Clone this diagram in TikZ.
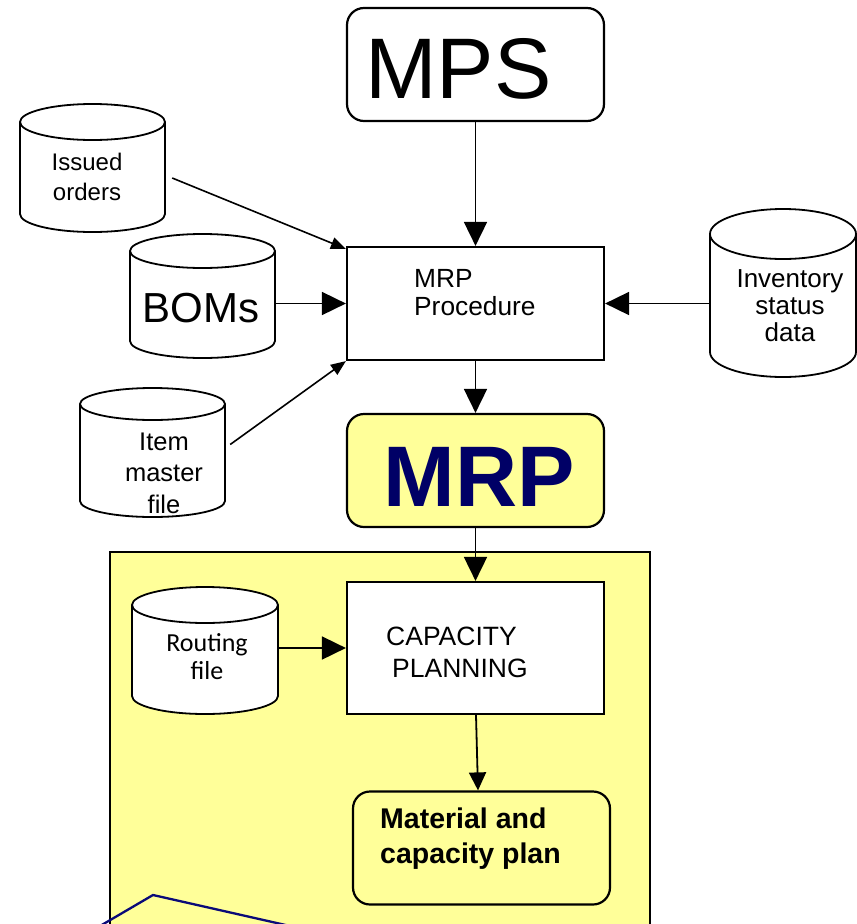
\documentclass[tikz,border=0pt]{standalone}
\usepackage{fontspec}
\setmainfont{Liberation Sans}
\newfontfamily\carlitofont{Carlito}
\usetikzlibrary{arrows.meta}

\definecolor{paleyellow}{RGB}{255,255,153}
\definecolor{navytext}{RGB}{0,0,102}
\definecolor{navyline}{RGB}{10,10,120}

% stacked lines whose baseline is the baseline of the last line
\newcommand\stack[2][c]{\begin{tabular}[b]{@{}#1@{}}#2\end{tabular}}

% database drum: name, left, top, right, bottom, ellipse half-height
\newcommand\drum[6]{%
  \pgfmathsetmacro\drx{(#4-#2)/2}%
  \path[drumline,fill=white] (#2,{#3+#6}) -- (#2,{#5-#6})
    arc[start angle=180,end angle=360,x radius=\drx pt,y radius=#6pt]
    -- (#4,{#3+#6})
    arc[start angle=0,end angle=180,x radius=\drx pt,y radius=#6pt] -- cycle;
  \draw[drumline] (#2,{#3+#6})
    arc[start angle=180,end angle=360,x radius=\drx pt,y radius=#6pt];
  \node[inner sep=0pt,minimum width={(#4-#2)*1pt},minimum height={(#5-#3)*1pt}]
    (#1) at ({(#2+#4)/2},{(#3+#5)/2}) {};
}

\begin{document}
\begin{tikzpicture}[x=1pt,y=-1pt,
  drumline/.style={draw=black,line width=1.8pt},
  procbox/.style={draw=black,line width=2.2pt,fill=white,inner sep=0pt,
    minimum width=257pt,minimum height=113pt},
  roundbox/.style={procbox,rounded corners=17pt},
  label/.style={inner sep=0pt,font=\fontsize{25}{26}\selectfont},
  flow/.style={line width=1.8pt,-{Triangle[length=24pt,width=23pt]}},
  thinflow/.style={line width=1.8pt,-{Triangle[length=18pt,width=17pt]}},
  slantflow/.style={line width=1.6pt,-{Triangle[length=15pt,width=12pt]}}]

\useasboundingbox (0,0) rectangle (857,924);
\fill[white] (0,0) rectangle (857,924);

% capacity planning area
\fill[paleyellow] (110,552) rectangle (650,926);
\draw[line width=2.2pt] (110,926) -- (110,552) -- (650,552) -- (650,926);

% boxes
\node[roundbox] (mps)  at (475.5,64.5) {};
\node[procbox]  (proc) at (475.5,303.5) {};
\node[roundbox,fill=paleyellow] (mrp) at (475.5,470.5) {};
\node[procbox,minimum height=132pt] (cap) at (475.5,648) {};
\node[roundbox,fill=paleyellow] (mat) at (481.5,848) {};

% data stores
\drum{issued}{20}{104}{165}{232}{18}
\drum{boms}{130}{234}{275}{358}{17}
\drum{item}{80}{388}{225}{517}{16}
\drum{inv}{710}{209}{856}{377}{25}
\drum{routing}{132}{587}{278}{714}{18}

% texts
\node[inner sep=0pt,anchor=base west,font=\fontsize{86}{90}\selectfont]
  (mpsT) at (365,98) {MPS};
\node[label,anchor=base west,font=\fontsize{26.3}{28}\selectfont]
  (procT) at (414,315) {\stack[l]{MRP\\Procedure}};
\node[inner sep=0pt,anchor=base,text=navytext,
  font=\fontsize{86}{88}\selectfont\bfseries] (mrpT) at (479,506) {MRP};
\node[label,anchor=base,font=\fontsize{42}{44}\selectfont]
  (bomsT) at (201,322) {BOMs};
\node[label,anchor=base,font=\fontsize{24}{29.5}\selectfont]
  (issuedT) at (87,200) {\stack{Issued\\orders}};
\node[label,anchor=base,font=\fontsize{25.5}{31.5}\selectfont]
  (itemT) at (164,513) {\stack{Item\\master\\file}};
\node[label,anchor=base,font=\fontsize{26}{27}\selectfont]
  (invT) at (790,341) {\stack{Inventory\\status\\data}};
\node[label,anchor=base west,font=\fontsize{26.5}{32}\selectfont]
  (capT) at (386,677) {\stack[l]{CAPACITY\\\hspace*{6pt}PLANNING}};
\node[label,anchor=base,font=\carlitofont\fontsize{26}{28}\selectfont]
  (routingT) at (207,679) {\stack{Routing\\file}};
\node[label,anchor=base west,font=\fontsize{28.5}{35}\selectfont\bfseries]
  (matT) at (380,863) {\stack[l]{Material and\\capacity plan}};

% flows into the MRP procedure
\draw[flow] (mps.south) -- (proc.north);
\draw[slantflow] ([xshift=7pt,yshift=-10pt]issued.east) -- ([yshift=-3pt]proc.north west);
\draw[flow] (boms.east |- proc.west) -- (proc.west);
\draw[slantflow] ([xshift=5pt,yshift=8pt]item.east) -- (proc.south west);
\draw[flow] (inv.west |- proc.east) -- (proc.east);

% flows down to the plan
\draw[flow] (proc.south) -- (mrp.north);
\draw[flow] (mrp.south) -- (cap.north);
\draw[flow] (routing.east |- cap.west) -- (cap.west);
\draw[thinflow] ([xshift=0.5pt]cap.south) -- ([xshift=-3.5pt]mat.north);

% navy outline entering from below
\coordinate (navyA) at (100,924);
\coordinate (navyB) at (153,895);
\coordinate (navyC) at (290,924);
\draw[navyline,line width=2.3pt] ([yshift=-2pt]navyA) -- (navyB) -- ([yshift=-2pt]navyC);
\end{tikzpicture}
\end{document}
